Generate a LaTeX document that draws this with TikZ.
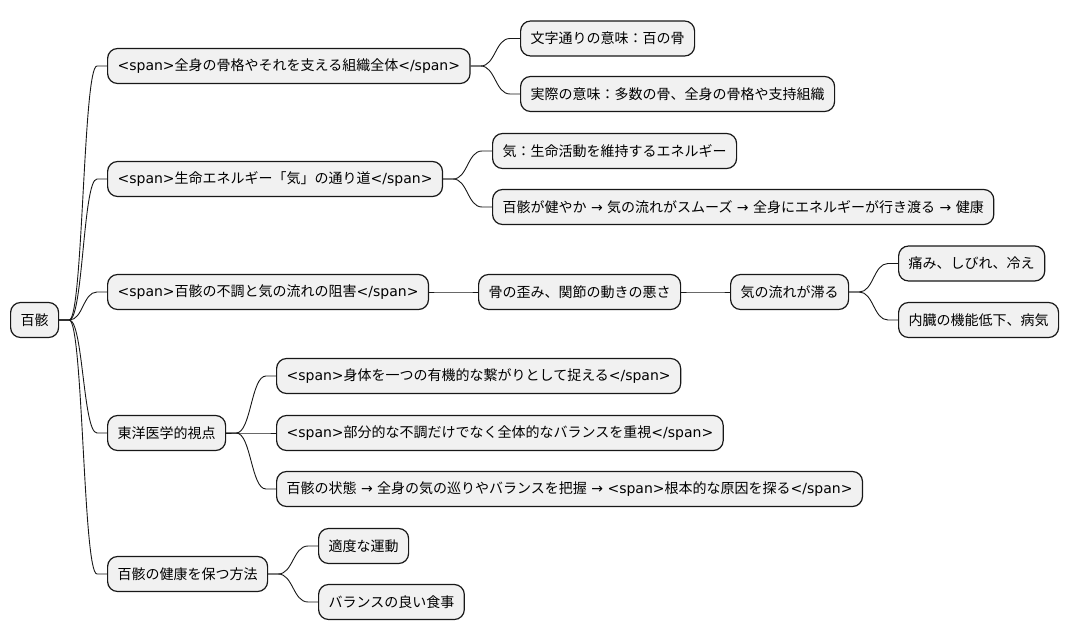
\documentclass[tikz,border=0pt]{standalone}
\usepackage{fontspec}
\setmainfont{DejaVu Sans}
\newfontfamily\cjk{Noto Sans CJK JP}
\usetikzlibrary{calc}
\definecolor{boxfill}{HTML}{F1F1F1}
\definecolor{boxline}{HTML}{181818}
\newcommand{\lat}[1]{{\rmfamily\relax#1}}
\tikzset{
  topic/.style={draw=boxline, fill=boxfill, line width=1.2pt, rounded corners=10pt,
    anchor=west, inner xsep=10pt, inner ysep=0pt, minimum height=35pt,
    font=\cjk\fontsize{14pt}{16pt}\selectfont},
  link/.style={draw=boxline, line width=0.9pt},
  branch/.style={to path={let \p1=(\tikztostart), \p2=(\tikztotarget) in
    (\p1) -- (\x1+10pt,\y1) .. controls ({0.5*\x1+0.5*\x2},\y1) and ({0.5*\x1+0.5*\x2},\y2) .. (\x2-10pt,\y2) -- (\p2)}}
}

\begin{document}
\begin{tikzpicture}[x=1pt,y=-1pt]
  \useasboundingbox (0,0) rectangle (1069,640);

  \node[topic] (root) at (10,320) {百骸};

  % skeleton
  \node[topic] (body) at (107,66) {\lat{<span>}全身の骨格やそれを支える組織全体\lat{</span>}};
  \node[topic] (literal) at (520,38.5) {文字通りの意味：百の骨};
  \node[topic] (actual) at (520,94) {実際の意味：多数の骨、全身の骨格や支持組織};

  % qi
  \node[topic] (qipath) at (107,179) {\lat{<span>}生命エネルギー「気」の通り道\lat{</span>}};
  \node[topic] (qi) at (492,151) {気：生命活動を維持するエネルギー};
  \node[topic] (chain) at (492,207) {百骸が健やか\lat{ → }気の流れがスムーズ\lat{ → }全身にエネルギーが行き渡る\lat{ → }健康};

  % disorder
  \node[topic] (disorder) at (107,292) {\lat{<span>}百骸の不調と気の流れの阻害\lat{</span>}};
  \node[topic] (distort) at (478,292) {骨の歪み、関節の動きの悪さ};
  \node[topic] (stagnate) at (730,292) {気の流れが滞る};
  \node[topic] (pain) at (898,263.5) {痛み、しびれ、冷え};
  \node[topic] (organ) at (898,320) {内臓の機能低下、病気};

  % eastern view
  \node[topic] (eastern) at (107,433) {東洋医学的視点};
  \node[topic] (whole) at (276,376) {\lat{<span>}身体を一つの有機的な繋がりとして捉える\lat{</span>}};
  \node[topic] (balance) at (276,433) {\lat{<span>}部分的な不調だけでなく全体的なバランスを重視\lat{</span>}};
  \node[topic] (cause) at (276,489) {百骸の状態\lat{ → }全身の気の巡りやバランスを把握\lat{ → <span>}根本的な原因を探る\lat{</span>}};

  % keeping healthy
  \node[topic] (keep) at (107,574) {百骸の健康を保つ方法};
  \node[topic] (exercise) at (318,546) {適度な運動};
  \node[topic] (diet) at (318,602) {バランスの良い食事};

  \draw[link] (root.east) to[branch] (body.west);
  \draw[link] (root.east) to[branch] (qipath.west);
  \draw[link] (root.east) to[branch] (disorder.west);
  \draw[link] (root.east) to[branch] (eastern.west);
  \draw[link] (root.east) to[branch] (keep.west);

  \draw[link] (body.east) to[branch] (literal.west);
  \draw[link] (body.east) to[branch] (actual.west);
  \draw[link] (qipath.east) to[branch] (qi.west);
  \draw[link] (qipath.east) to[branch] (chain.west);
  \draw[link] (disorder.east) to[branch] (distort.west);
  \draw[link] (distort.east) to[branch] (stagnate.west);
  \draw[link] (stagnate.east) to[branch] (pain.west);
  \draw[link] (stagnate.east) to[branch] (organ.west);
  \draw[link] (eastern.east) to[branch] (whole.west);
  \draw[link] (eastern.east) to[branch] (balance.west);
  \draw[link] (eastern.east) to[branch] (cause.west);
  \draw[link] (keep.east) to[branch] (exercise.west);
  \draw[link] (keep.east) to[branch] (diet.west);
\end{tikzpicture}
\end{document}
